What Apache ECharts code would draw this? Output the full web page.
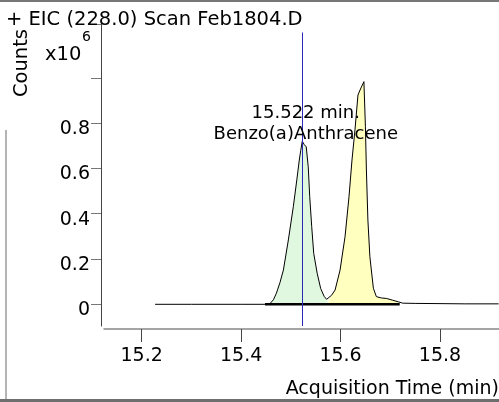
<!DOCTYPE html>
<html>
<head>
<meta charset="utf-8">
<script src="https://cdn.jsdelivr.net/npm/echarts@6/dist/echarts.min.js"></script>
<style>
  html, body { margin: 0; padding: 0; background: #fff; }
  #chart { width: 499px; height: 402px; }
</style>
</head>
<body>
<div id="chart"></div>
<script>
// Extracted ion chromatogram, m/z 228.0, counts in units of 10^6
const times = [15.227, 15.300, 15.400, 15.448, 15.458, 15.465, 15.471, 15.478, 15.485, 15.495,
  15.505, 15.512, 15.517, 15.520, 15.523, 15.527, 15.531, 15.535, 15.538, 15.542,
  15.546, 15.553, 15.560, 15.567, 15.572, 15.576, 15.582, 15.589, 15.599, 15.609,
  15.617, 15.623, 15.629, 15.635, 15.641, 15.647, 15.650, 15.652, 15.655, 15.659,
  15.666, 15.672, 15.682, 15.692, 15.705, 15.716, 15.725, 15.750, 15.800, 15.850, 15.918];
const counts = [0, 0, 0, 0, 0.003, 0.020, 0.049, 0.095, 0.151, 0.284,
  0.431, 0.549, 0.637, 0.680, 0.720, 0.705, 0.695, 0.607, 0.475, 0.343,
  0.225, 0.137, 0.070, 0.035, 0.022, 0.018, 0.040, 0.063, 0.151, 0.298,
  0.475, 0.637, 0.770, 0.924, 0.955, 0.983, 0.784, 0.593, 0.372, 0.210,
  0.071, 0.034, 0.028, 0.026, 0.018, 0.011, 0.005, 0.004, 0.003, 0.002, 0.002];

// Integrated peak windows (start, end) in minutes
const peakA = [15.458, 15.576];   // Benzo(a)Anthracene
const peakB = [15.576, 15.716];
const integrationBase = [15.448, 15.719];

// Retention time marker and its annotation
const markerTime = 15.522;
const markerLabel = '15.522 min.';
const compoundName = 'Benzo(a)Anthracene';

// Axis ticks
const xTicks = [15.2, 15.4, 15.6, 15.8];
const yLabelValues = [0, 0.2, 0.4, 0.6, 0.8];
const yTickValues = [0, 0.2, 0.4, 0.6, 0.8, 1.0, 1.2375];
const xRange = [15.1242, 15.9187];
const yRange = [-0.0958, 1.2375];

const titleText = '+ EIC (228.0) Scan Feb1804.D';
const yName = 'Counts';
const xName = 'Acquisition Time (min)';

const FONT = 'DejaVu Sans';
const FS = 19;
const trace = times.map((t, i) => [t, counts[i]]);
const slice = (w) => trace.filter(p => p[0] >= w[0] - 1e-9 && p[0] <= w[1] + 1e-9);

const chart = echarts.init(document.getElementById('chart'), null, { renderer: 'canvas' });
chart.setOption({
  animation: false,
  backgroundColor: '#fff',
  title: {
    text: titleText, left: 1, top: 5,
    textStyle: { fontFamily: FONT, fontSize: 19.5, fontWeight: 'normal', color: '#000' }
  },
  grid: { left: 104, right: 0, top: 24, bottom: 76, containLabel: false, outerBoundsMode: 'none' },
  xAxis: {
    type: 'value', min: xRange[0], max: xRange[1], offset: 3,
    splitLine: { show: false },
    axisLine: { onZero: false, lineStyle: { color: '#888', width: 1.5 } },
    axisTick: { length: 13, customValues: xTicks, lineStyle: { color: '#444' } },
    axisLabel: { customValues: xTicks, margin: 18, fontFamily: FONT, fontSize: FS, color: '#000',
      formatter: v => v.toFixed(1) },
    name: xName, nameLocation: 'end', nameGap: 0,
    nameTextStyle: { fontFamily: FONT, fontSize: FS, color: '#000', align: 'right',
      verticalAlign: 'top', padding: [51, 0, 0, 0] }
  },
  yAxis: {
    type: 'value', min: yRange[0], max: yRange[1], offset: 3,
    splitLine: { show: false },
    axisLine: { show: true, onZero: false, lineStyle: { color: '#444', width: 1 } },
    axisTick: { show: true, length: 10, customValues: yTickValues, lineStyle: { color: '#777' } },
    axisLabel: { customValues: yLabelValues, margin: 11, fontFamily: FONT, fontSize: FS, color: '#000',
      verticalAlign: 'top', lineHeight: 12,
      formatter: v => (v === 0 ? '0' : v.toFixed(1)) }
  },
  graphic: [
    { type: 'text', left: 12, top: 29, rotation: Math.PI / 2,
      style: { text: yName, font: '19.5px "DejaVu Sans"', fill: '#000' } },
    { type: 'text', left: 45, top: 45, style: { text: 'x10', font: '19.5px "DejaVu Sans"', fill: '#000' } },
    { type: 'text', left: 82, top: 30, style: { text: '6', font: '14px "DejaVu Sans"', fill: '#000' } },
    { type: 'rect', shape: { x: 0, y: 0, width: 499, height: 2 }, style: { fill: '#777' } },
    { type: 'rect', shape: { x: 5, y: 130, width: 2, height: 272 }, style: { fill: '#b4b4b4' } },
    { type: 'rect', shape: { x: 0, y: 399, width: 499, height: 3 }, style: { fill: '#6e6e6e' } }
  ],
  series: [
    { type: 'line', data: slice(peakA), showSymbol: false, lineStyle: { width: 0 },
      areaStyle: { color: '#e0f8e0', opacity: 1 }, z: 1, silent: true },
    { type: 'line', data: slice(peakB), showSymbol: false, lineStyle: { width: 0 },
      areaStyle: { color: '#ffffc0', opacity: 1 }, z: 1, silent: true },
    { type: 'line', data: integrationBase.map(t => [t, 0]), showSymbol: false,
      lineStyle: { color: '#000', width: 2.5 }, z: 3, silent: true },
    { type: 'line', data: trace, showSymbol: false, lineStyle: { color: '#000', width: 1 }, z: 4,
      silent: true,
      markLine: {
        silent: true, symbol: 'none', label: { show: false },
        lineStyle: { color: '#2a2ab8', width: 1, type: 'solid' },
        data: [[{ coord: [markerTime, yRange[0]] }, { coord: [markerTime, 1.2] }]]
      },
      markPoint: {
        silent: true, symbol: 'circle', symbolSize: 0,
        data: [{ coord: [markerTime, 0.72] }],
        label: { show: true, position: 'top', distance: -4, offset: [4, 0],
          formatter: markerLabel + '\n' + compoundName, align: 'center',
          fontFamily: FONT, fontSize: 18, lineHeight: 21, color: '#000' }
      }
    }
  ]
});
</script>
</body>
</html>
